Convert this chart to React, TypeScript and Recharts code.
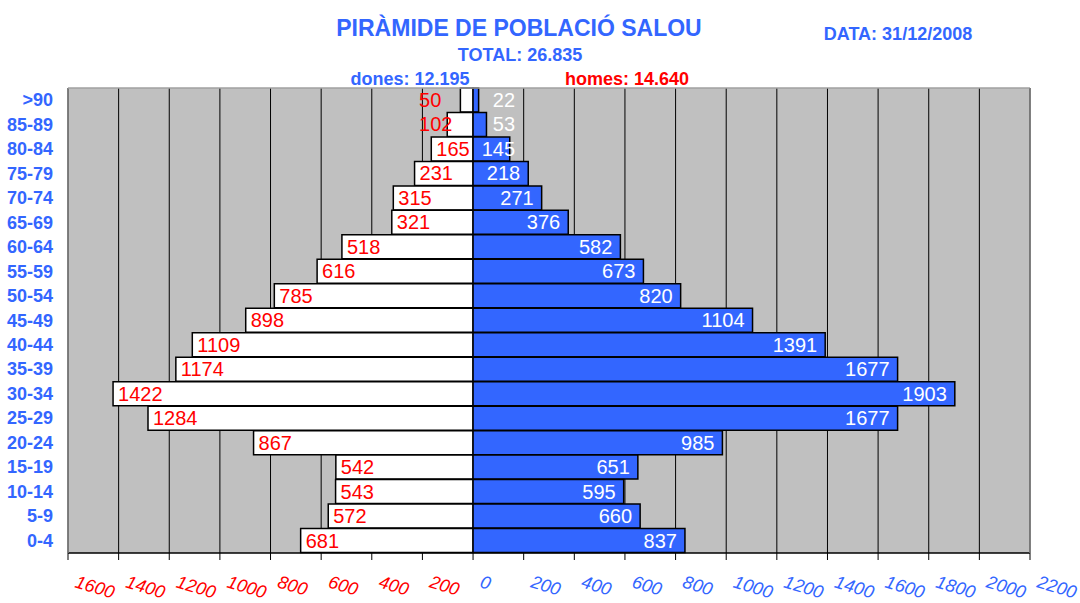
import { BarChart, Bar, XAxis, YAxis, CartesianGrid, LabelList } from "recharts"

const ages = [">90", "85-89", "80-84", "75-79", "70-74", "65-69", "60-64", "55-59", "50-54", "45-49", "40-44", "35-39", "30-34", "25-29", "20-24", "15-19", "10-14", "5-9", "0-4"]
const dones = [50, 102, 165, 231, 315, 321, 518, 616, 785, 898, 1109, 1174, 1422, 1284, 867, 542, 543, 572, 681]
const homes = [22, 53, 145, 218, 271, 376, 582, 673, 820, 1104, 1391, 1677, 1903, 1677, 985, 651, 595, 660, 837]
const xTicks = [-1600, -1400, -1200, -1000, -800, -600, -400, -200, 0, 200, 400, 600, 800, 1000, 1200, 1400, 1600, 1800, 2000, 2200]

const data = ages.map((age, i) => ({ age, dones: -dones[i], homes: homes[i] }))

const BLUE = "#3366FF"
const RED = "#FF0000"
const FONT = "'Liberation Sans', Arial, sans-serif"

const XTick = ({ x, y, payload }: any) => {
  const v = payload.value
  const tx = x + 6
  const ty = y + 25
  return (
    <text x={tx} y={ty} transform={`rotate(17, ${tx}, ${ty})`} fill={v < 0 ? RED : BLUE}
      fontSize={18} fontStyle="italic" fontFamily={FONT}>
      {Math.abs(v)}
    </text>
  )
}

const YTick = ({ x, y, payload }: any) => (
  <text x={x} y={y + 6} textAnchor="end" fill={BLUE} fontSize={18} fontWeight="bold" fontFamily={FONT}>
    {payload.value}
  </text>
)

const DonesLabel = (props: any) => {
  const { x, y, width, height, value } = props
  const left = Math.min(x, x + width)
  const zero = Math.max(x, x + width)
  const tx = zero - left >= 40 ? left + 5 : zero - 54
  return (
    <text x={tx} y={y + height / 2 + 7} fill={RED} fontSize={20} fontFamily={FONT}>
      {Math.abs(value)}
    </text>
  )
}

const HomesLabel = (props: any) => {
  const { x, y, width, height, value } = props
  const zero = Math.min(x, x + width)
  const right = Math.max(x, x + width)
  const tx = Math.max(right - 8, zero + 42)
  return (
    <text x={tx} y={y + height / 2 + 7} textAnchor="end" fill="#FFFFFF" fontSize={20} fontFamily={FONT}>
      {value}
    </text>
  )
}

export default function App() {
  return (
    <div style={{ position: "relative", width: 1080, height: 603, fontFamily: FONT }}>
      <style>{`body{margin:0}`}</style>
      <BarChart
        width={1080}
        height={603}
        data={data}
        layout="vertical"
        stackOffset="sign"
        barCategoryGap={0}
        margin={{ top: 88, right: 50, left: 0, bottom: 0 }}
      >
        <CartesianGrid horizontal={false} vertical stroke="#000" fill="#C0C0C0" fillOpacity={1} />
        <XAxis type="number" domain={[-1600, 2200]} ticks={xTicks} allowDataOverflow height={50}
          axisLine={{ stroke: "#000", strokeWidth: 1.5 }} tickLine={{ stroke: "#000" }} tickSize={7} tick={<XTick />} />
        <YAxis type="category" dataKey="age" width={68} axisLine={{ stroke: "#808080", strokeWidth: 1.5 }}
          tickLine={false} tickSize={0} tickMargin={15} tick={<YTick />} interval={0} />
        <Bar dataKey="dones" stackId="a" fill="#FFFFFF" stroke="#000" strokeWidth={1.5} isAnimationActive={false}>
          <LabelList dataKey="dones" content={<DonesLabel />} />
        </Bar>
        <Bar dataKey="homes" stackId="a" fill={BLUE} stroke="#000" strokeWidth={1.5} isAnimationActive={false}>
          <LabelList dataKey="homes" content={<HomesLabel />} />
        </Bar>
      </BarChart>
      <svg width={1080} height={603} style={{ position: "absolute", left: 0, top: 0, pointerEvents: "none" }}>
        <line x1={68} y1={88} x2={1030} y2={88} stroke="#A0A0A0" strokeWidth={1.5} />
        <line x1={1030} y1={88} x2={1030} y2={553} stroke="#808080" strokeWidth={1.5} />
        <text x={519} y={36} textAnchor="middle" fill={BLUE} fontSize={23} fontWeight="bold" fontFamily={FONT}>
          PIRÀMIDE DE POBLACIÓ SALOU
        </text>
        <text x={520} y={61} textAnchor="middle" fill={BLUE} fontSize={18} fontWeight="bold" fontFamily={FONT}>
          TOTAL: 26.835
        </text>
        <text x={898} y={40} textAnchor="middle" fill={BLUE} fontSize={18} fontWeight="bold" fontFamily={FONT}>
          DATA: 31/12/2008
        </text>
        <text x={410} y={85} textAnchor="middle" fill={BLUE} fontSize={18} fontWeight="bold" fontFamily={FONT}>
          dones: 12.195
        </text>
        <text x={627} y={85} textAnchor="middle" fill={RED} fontSize={18} fontWeight="bold" fontFamily={FONT}>
          homes: 14.640
        </text>
      </svg>
    </div>
  )
}
